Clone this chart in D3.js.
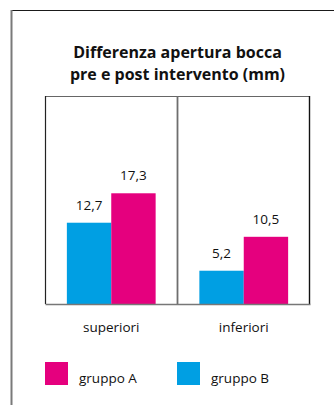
<!DOCTYPE html>
<html>
<head>
<meta charset="utf-8">
<script src="https://cdn.jsdelivr.net/npm/d3@7"></script>
<style>
  html, body { margin: 0; padding: 0; background: #fff; }
  svg { display: block; font-family: "Open Sans", sans-serif; }
</style>
</head>
<body>
<svg id="chart" width="334" height="405"></svg>
<script>
// Data
const categories = ["superiori", "inferiori"];
const groups = ["gruppo B", "gruppo A"];
const valuesA = [17.3, 10.5];
const valuesB = [12.7, 5.2];
const titleLines = ["Differenza apertura bocca", "pre e post intervento (mm)"];
const legendOrder = ["gruppo A", "gruppo B"];

const colors = { "gruppo A": "#e5007e", "gruppo B": "#009fe3" };
const fmt = v => String(v).replace(".", ",");

const svg = d3.select("#chart");

// Outer frame (top and left edges)
svg.append("line").attr("x1", 11).attr("x2", 334).attr("y1", 10.5).attr("y2", 10.5)
  .attr("stroke", "#1a1a1a").attr("stroke-width", 1.2);
svg.append("line").attr("x1", 11.5).attr("x2", 11.5).attr("y1", 10).attr("y2", 405)
  .attr("stroke", "#7a7a7a").attr("stroke-width", 2);

// Title
svg.append("text")
  .attr("x", 177.5).attr("y", 57.5)
  .attr("text-anchor", "middle")
  .attr("font-weight", "bold").attr("font-size", 16).attr("fill", "#111")
  .selectAll("tspan").data(titleLines).join("tspan")
  .attr("x", 177.5).attr("dy", (d, i) => i === 0 ? 0 : 22)
  .text(d => d);

// Plot area
const plotLeft = 45, plotRight = 310, plotTop = 96, plotBottom = 304;

const x0 = d3.scaleBand().domain(categories).range([plotLeft, plotRight])
  .paddingInner(0.33).paddingOuter(0.165);
const x1 = d3.scaleBand().domain(groups).range([0, x0.bandwidth()]);
const y = d3.scaleLinear().domain([0, 32.5]).range([plotBottom, plotTop]);

const rows = categories.map((c, i) => ({
  cat: c,
  vals: [
    { g: "gruppo B", v: valuesB[i] },
    { g: "gruppo A", v: valuesA[i] }
  ]
}));

const cat = svg.selectAll("g.cat").data(rows).join("g")
  .attr("class", "cat")
  .attr("transform", d => `translate(${x0(d.cat)},0)`);

cat.selectAll("rect").data(d => d.vals).join("rect")
  .attr("x", d => x1(d.g))
  .attr("y", d => y(d.v))
  .attr("width", x1.bandwidth())
  .attr("height", d => y(0) - y(d.v))
  .attr("fill", d => colors[d.g]);

cat.selectAll("text.val").data(d => d.vals).join("text")
  .attr("class", "val")
  .attr("x", d => x1(d.g) + x1.bandwidth() / 2)
  .attr("y", d => y(d.v) - 13)
  .attr("text-anchor", "middle")
  .attr("font-size", 13.5).attr("fill", "#111")
  .text(d => fmt(d.v));

// Plot frame
const step = x0.step();
const divider = x0(categories[0]) + x0.bandwidth() + x0.paddingInner() * step / 2;
svg.append("line").attr("x1", plotLeft).attr("x2", plotRight).attr("y1", plotTop + 0.5).attr("y2", plotTop + 0.5)
  .attr("stroke", "#666").attr("stroke-width", 1.2);
svg.append("line").attr("x1", plotLeft + 0.5).attr("x2", plotLeft + 0.5).attr("y1", plotTop).attr("y2", plotBottom)
  .attr("stroke", "#222").attr("stroke-width", 1.2);
svg.append("line").attr("x1", plotRight - 0.5).attr("x2", plotRight - 0.5).attr("y1", plotTop).attr("y2", plotBottom)
  .attr("stroke", "#111").attr("stroke-width", 1.4);
svg.append("line").attr("x1", divider).attr("x2", divider).attr("y1", plotTop).attr("y2", plotBottom)
  .attr("stroke", "#6e6e6e").attr("stroke-width", 1.8);

// Category axis
const axis = svg.append("g").attr("transform", `translate(0,${plotBottom})`)
  .call(d3.axisBottom(x0).tickSize(0).tickPadding(18));
axis.select(".domain").attr("stroke", "#777").attr("stroke-width", 1.6);
axis.selectAll("text").attr("font-size", 13.5).attr("fill", "#111")
  .attr("font-family", "Open Sans, sans-serif");

// Legend
const legend = svg.selectAll("g.legend").data(legendOrder).join("g")
  .attr("class", "legend")
  .attr("transform", (d, i) => `translate(${45 + i * 132},362)`);
legend.append("rect").attr("width", 23).attr("height", 23).attr("fill", d => colors[d]);
legend.append("text").attr("x", 34).attr("y", 21)
  .attr("font-size", 13.5).attr("fill", "#111").text(d => d);
</script>
</body>
</html>
